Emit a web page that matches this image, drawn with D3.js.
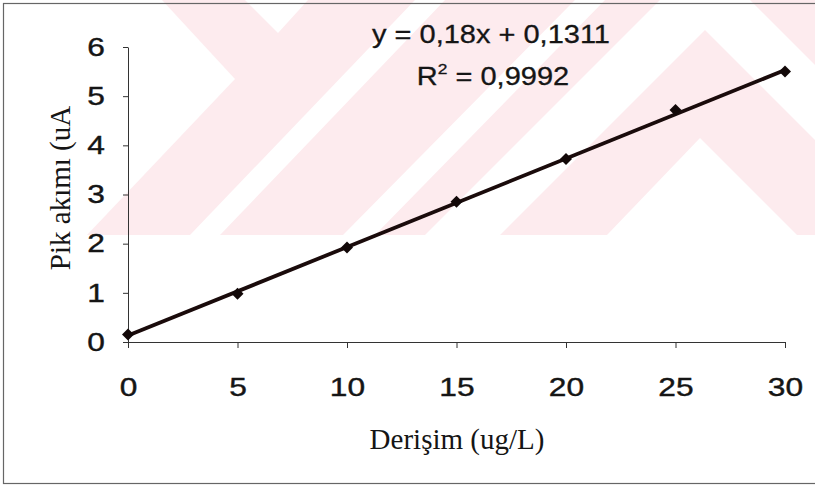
<!DOCTYPE html>
<html>
<head>
<meta charset="utf-8">
<script src="https://cdn.jsdelivr.net/npm/d3@7"></script>
<style>
  body { margin: 0; background: #fff; }
  svg { display: block; }
  .tick text { font-family: "Liberation Sans", Arial, sans-serif; font-size: 26px; fill: #151515; stroke: #151515; stroke-width: 0.4; }
  .axis path, .axis line { stroke: #333; stroke-width: 1; }
</style>
</head>
<body>
<div id="chart"></div>
<script>
// data
var concentration = [0, 5, 10, 15, 20, 25, 30];
var peakCurrent = [0.15, 0.98, 1.92, 2.85, 3.72, 4.72, 5.5];
var xTicks = [0, 5, 10, 15, 20, 25, 30];
var yTicks = [0, 1, 2, 3, 4, 5, 6];
var slope = 0.18, intercept = 0.1311;
var eqText = "y = 0,18x + 0,1311";
var r2Text = "0,9992";
var xTitle = "Derişim (ug/L)";
var yTitle = "Pik akımı (uA";

var w = 815, h = 492;

// scanned background watermark (pink band with white cut-outs)
var wmHoles = [
  [[0,0],[162,0],[235,79],[87,235],[0,235]],
  [[245,0],[308,0],[278,33]],
  [[415,0],[445,0],[220,235],[190,235]],
  [[575,0],[605,0],[375,235],[343,235]],
  [[425,235],[705,-45],[815,65],[815,140],[705,30],[500,235]],
  [[607,235],[700,138],[797,235]]
];

var svg = d3.select("#chart")
  .append("svg")
  .attr("width", w)
  .attr("height", h);

svg.append("rect")
  .attr("x", 0).attr("y", 0)
  .attr("width", w).attr("height", 235)
  .attr("fill", "#fdebee");

svg.append("g")
  .selectAll("polygon")
  .data(wmHoles)
  .enter()
  .append("polygon")
    .attr("points", function(d) { return d.map(function(p) { return p.join(","); }).join(" "); })
    .attr("fill", "#fff");

// outer frame of the scanned figure
svg.append("rect")
  .attr("x", 3.5).attr("y", 3.5)
  .attr("width", w).attr("height", 480)
  .attr("fill", "none")
  .attr("stroke", "#666")
  .attr("stroke-width", 1.2);

//Create scale functions
var xScale = d3.scaleLinear()
  .domain([0, 30])
  .range([128, 785]);

var yScale = d3.scaleLinear()
  .domain([0, 6])
  .range([342, 47]);

//Define axes
var xAxis = d3.axisBottom(xScale)
  .tickValues(xTicks)
  .tickFormat(d3.format("d"))
  .tickSize(6)
  .tickPadding(30)
  .tickSizeOuter(0);

var yAxis = d3.axisLeft(yScale)
  .tickValues(yTicks)
  .tickFormat(d3.format("d"))
  .tickSize(5)
  .tickPadding(18)
  .tickSizeOuter(0);

svg.append("g")
  .attr("class", "axis")
  .attr("transform", "translate(0,342)")
  .call(xAxis);

svg.append("g")
  .attr("class", "axis")
  .attr("transform", "translate(128,0)")
  .call(yAxis);

// the scanned digits are wide, stretch them horizontally
svg.selectAll(".tick text").each(function() {
  var t = d3.select(this);
  var x = +t.attr("x") || 0;
  t.attr("x", 0).attr("transform", "translate(" + x + ",0) scale(1.22,1)");
});

// trendline
svg.append("line")
  .attr("x1", xScale(0))
  .attr("y1", yScale(intercept))
  .attr("x2", xScale(30))
  .attr("y2", yScale(slope * 30 + intercept))
  .attr("stroke", "#1a0b0b")
  .attr("stroke-width", 3.8);

// diamond markers
svg.append("g")
  .selectAll("path")
  .data(peakCurrent)
  .enter()
  .append("path")
    .attr("d", d3.symbol().type(d3.symbolSquare).size(72))
    .attr("transform", function(d, i) {
      return "translate(" + xScale(concentration[i]) + "," + yScale(d) + ") rotate(45)";
    })
    .attr("fill", "#120808");

// equation labels
function arialLabel(cx, y) {
  return svg.append("text")
    .attr("text-anchor", "middle")
    .attr("transform", "translate(" + cx + "," + y + ") scale(1.16,1)")
    .style("font-family", "Liberation Sans, Arial, sans-serif")
    .style("font-size", "25px")
    .style("fill", "#151515")
    .style("stroke", "#151515")
    .style("stroke-width", 0.3);
}

arialLabel(491, 43).text(eqText);

var r2 = arialLabel(493, 85);
r2.append("tspan").text("R");
r2.append("tspan").attr("dy", -11).style("font-size", "15px").text("2");
r2.append("tspan").attr("dy", 11).text(" = " + r2Text);

// axis titles
svg.append("text")
  .attr("x", 457)
  .attr("y", 449)
  .attr("text-anchor", "middle")
  .style("font-family", "Liberation Serif, Times New Roman, serif")
  .style("font-size", "29px")
  .style("fill", "#151515")
  .text(xTitle);

svg.append("text")
  .attr("transform", "translate(70,188) rotate(-90)")
  .attr("text-anchor", "middle")
  .style("font-family", "Liberation Serif, Times New Roman, serif")
  .style("font-size", "29px")
  .style("fill", "#151515")
  .text(yTitle);
</script>
</body>
</html>
